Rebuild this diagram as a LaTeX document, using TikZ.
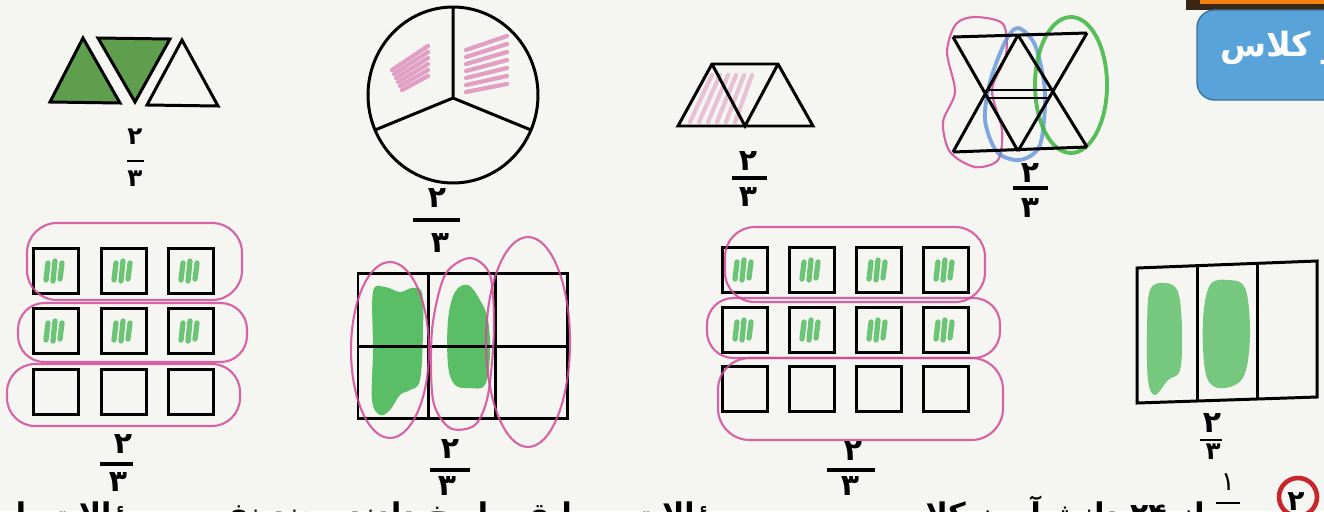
\documentclass[tikz,border=0pt]{standalone}
\usepackage{fontspec}
\setmainfont{DejaVu Sans}
\newfontfamily\fa[Script=Arabic]{DejaVu Sans}
\TeXXeTstate=1
\definecolor{paper}{HTML}{F5F5F1}
\definecolor{trigreen}{HTML}{5E9E4C}
\definecolor{mark}{HTML}{3FB54E}
\definecolor{pinkm}{HTML}{D04A98}
\definecolor{bluem}{HTML}{4D8AD6}
\definecolor{greenloop}{HTML}{3DB53D}
\definecolor{banner}{HTML}{58A4DA}
\definecolor{redc}{HTML}{C8262C}
\tikzset{
  fig/.style={draw=black, line width=1.7pt, line join=miter},
  sq/.style={draw=black, line width=1.7pt, minimum size=0.9cm, inner sep=0pt},
  pinkloop/.style={draw=pinkm, line width=1.2pt, opacity=0.85},
  hatch/.style={draw=pinkm, line width=2.4pt, opacity=0.5, line cap=round},
  scribble/.style={draw=mark, line width=3pt, opacity=0.75, line cap=round},
  greenfill/.style={fill=mark, opacity=0.85},
  prt/.style={font=\fa\bfseries\fontsize{14}{14}\selectfont, inner sep=0pt},
  hnd/.style={font=\fa\bfseries\fontsize{17}{17}\selectfont, inner sep=0pt},
  fracbar/.style={line width=1.8pt},
}
\newcommand{\gscrib}[2]{%
  \draw[scribble] ({#1-8},{#2-8}) -- ({#1-10},{#2+9})
    ({#1-1},{#2-10}) -- ({#1-3},{#2+10})
    ({#1+6},{#2-8}) -- ({#1+4},{#2+8});}
\begin{document}
\begin{tikzpicture}[x=0.02cm,y=-0.02cm]
\fill[paper] (0,0) rectangle (1324,511);
\useasboundingbox (0,0) rectangle (1324,511);
\clip (0,0) rectangle (1324,511);

% ---------- top row ----------
% three triangles
\filldraw[fig, fill=trigreen] (50,102) -- (83,38) -- (120,103) -- cycle;
\filldraw[fig, fill=trigreen] (98,38) -- (170,39) -- (135,102) -- cycle;
\draw[fig] (147,105) -- (182,40) -- (218,106) -- cycle;
\node[prt] (f1n) at (135,137) {۲};
\node[prt] (f1d) at (135,179) {۳};
\draw[fracbar, line width=1.4pt] (127,161) -- (144,161);

% circle in thirds
\foreach \i in {0,...,5} {
  \draw[hatch] ({392+\i*2},{70+\i*4}) -- ({428},{46+\i*6});
}
\foreach \i in {0,...,6} {
  \draw[hatch] ({466},{50+\i*7}) -- ({507},{36+\i*8});
}
\draw[fig] (453,95) ellipse [x radius=1.7cm, y radius=1.76cm];
\coordinate (cc) at (453,98);
\draw[fig] (453,7) -- (cc) -- (375,130);
\draw[fig] (cc) -- (531,130);
\node[hnd] (f2n) at (437,198) {۲};
\node[hnd] (f2d) at (440,243) {۳};
\draw[fracbar] (413,220) -- (460,220);

% trapezoid of three triangles
\foreach \i in {0,...,5} {
  \draw[hatch, opacity=0.3] ({690+\i*9},122) -- ({712+\i*8},75);
}
\draw[fig] (678,126) -- (712,64) -- (778,64) -- (813,126) -- cycle;
\draw[fig] (712,64) -- (745,126) -- (778,64);
\node[hnd] (f3n) at (748,161) {۲};
\node[hnd] (f3d) at (748,197) {۳};
\draw[fracbar] (732,178) -- (767,178);

% star figure
\coordinate (TL) at (953,37); \coordinate (TM) at (1018,35); \coordinate (TR) at (1087,33);
\coordinate (BL) at (953,152); \coordinate (BM) at (1018,151); \coordinate (BR) at (1087,147);
\draw[pinkloop] plot[smooth cycle] coordinates {(975,17) (1003,24) (1006,55) (992,90) (1002,130) (998,160) (975,167) (950,152) (943,122) (955,92) (947,52) (956,24)};
\draw[draw=bluem, line width=2.2pt, opacity=0.7] plot[smooth cycle] coordinates {(1018,28) (1035,45) (1045,92) (1040,145) (1020,160) (997,152) (985,120) (990,82) (1005,42)};
\draw[draw=greenloop, line width=2.2pt, opacity=0.85] (1071,85) ellipse [x radius=0.72cm, y radius=1.36cm];
\draw[fig] (TL) -- (TR) (BL) -- (BR);
\draw[fig] (TL) -- (BM) (TM) -- (BL) (TM) -- (BR) (TR) -- (BM);
\draw[fig] (987,90) -- (1052,90) (988,98) -- (1049,98);
\node[hnd] (f4n) at (1030,173) {۲};
\node[hnd] (f4d) at (1030,208) {۳};
\draw[fracbar] (1013,188) -- (1048,188);

% banner
\fill[black!70!brown] (1186,0) rectangle (1324,10);
\fill[orange!80!brown] (1200,0) rectangle (1324,4);
\filldraw[fill=banner, draw=banner!70!black, line width=0.8pt, rounded corners=10pt] (1197,10) rectangle (1360,100);
\node[anchor=west, text=white, inner sep=0pt, font=\fa\bfseries\fontsize{19}{19}\selectfont] (bnr) at (1220,48) {\beginR کار در کلاس\endR};

% ---------- bottom row ----------
% 3x3 grid
\foreach \c/\x in {1/56,2/124,3/191} {
  \foreach \r/\y in {1/271,2/331,3/392} {
    \node[sq] (a\r\c) at (\x,\y) {};
  }
}
\foreach \x in {56,124,191} { \gscrib{\x}{271} \gscrib{\x}{331} }
\draw[pinkloop, rounded corners=17pt] (27,223) rectangle (242,300);
\draw[pinkloop, rounded corners=15pt] (18,303) rectangle (247,362);
\draw[pinkloop, rounded corners=16pt] (7,364) rectangle (240,426);
\node[hnd] (f5n) at (123,444) {۲};
\node[hnd] (f5d) at (118,482) {۳};
\draw[fracbar] (100,464) -- (133,464);

% 2x3 grid
\fill[greenfill] plot[smooth cycle, tension=0.6] coordinates {(373,292) (385,287) (400,292) (412,288) (422,293) (423,330) (420,380) (410,390) (400,395) (390,410) (380,415) (372,400) (373,350)};
\fill[greenfill] plot[smooth cycle, tension=0.6] coordinates {(455,292) (468,285) (480,300) (488,320) (490,355) (485,385) (470,388) (455,385) (448,365) (448,320)};
\draw[fig] (358,273) rectangle (567,418);
\draw[fig] (428,273) -- (428,418) (495,273) -- (495,418) (358,346) -- (567,346);
\draw[pinkloop] (390,350) ellipse [x radius=0.78cm, y radius=1.76cm];
\draw[pinkloop] plot[smooth cycle] coordinates {(470,258) (490,275) (494,330) (488,395) (475,425) (450,428) (433,400) (432,330) (445,275)};
\draw[pinkloop] (528,342) ellipse [x radius=0.84cm, y radius=2.1cm];
\node[hnd] (f6n) at (450,449) {۲};
\node[hnd] (f6d) at (447,486) {۳};
\draw[fracbar] (430,470) -- (470,470);

% 3x4 grid
\foreach \c/\x in {1/745,2/812,3/879,4/946} {
  \foreach \r/\y in {1/270,2/330,3/389} {
    \node[sq] (b\r\c) at (\x,\y) {};
  }
}
\foreach \x in {745,812,879,946} { \gscrib{\x}{270} \gscrib{\x}{330} }
\draw[pinkloop, rounded corners=17pt] (725,227) rectangle (985,302);
\draw[pinkloop, rounded corners=15pt] (707,298) rectangle (1000,358);
\draw[pinkloop, rounded corners=18pt] (718,358) rectangle (1003,440);
\node[hnd] (f7n) at (853,451) {۲};
\node[hnd] (f7d) at (850,486) {۳};
\draw[fracbar] (827,470) -- (875,470);

% rectangle in thirds
\fill[greenfill, opacity=0.7] plot[smooth cycle, tension=0.6] coordinates {(1150,290) (1165,283) (1178,292) (1182,330) (1180,370) (1168,380) (1155,395) (1148,380) (1147,330)};
\fill[greenfill, opacity=0.7] plot[smooth cycle, tension=0.6] coordinates {(1210,285) (1228,280) (1245,288) (1250,330) (1246,370) (1235,385) (1215,387) (1205,370) (1203,320)};
\draw[fig] (1137,268) -- (1317,261) -- (1317,397) -- (1137,403) -- cycle;
\draw[fig] (1197,266) -- (1197,401) (1257,263) -- (1257,399);
\node[hnd] (f8n) at (1212,423) {۲};
\node[hnd, font=\fa\bfseries\fontsize{14}{14}\selectfont] (f8d) at (1213,452) {۳};
\draw[fracbar, line width=1.4pt] (1200,440) -- (1222,440);

% question line (cut off)
\draw[redc, line width=2.6pt] (1298,497) circle [radius=0.38cm];
\node[font=\fa\bfseries\fontsize{16}{16}\selectfont, inner sep=0pt] (q2) at (1296,502) {۲};
\node[prt, font=\fa\fontsize{15}{15}\selectfont] (q1n) at (1228,482) {۱};
\draw[fracbar, line width=1.4pt] (1216,503) -- (1240,503);
\node[prt, font=\fa\fontsize{15}{15}\selectfont] (q1d) at (1228,528) {۳};
\node[anchor=base east, inner sep=0pt, font=\fa\bfseries\fontsize{17}{17}\selectfont] (qtxt) at (1205,524) {\beginR از \beginL۲۴\endL{} دانش‌آموز کلاس سوم، به سؤالات مسابقه پاسخ دادند. چند نفر به سؤالات پاسخ دادند؟\endR};
\end{tikzpicture}
\end{document}
